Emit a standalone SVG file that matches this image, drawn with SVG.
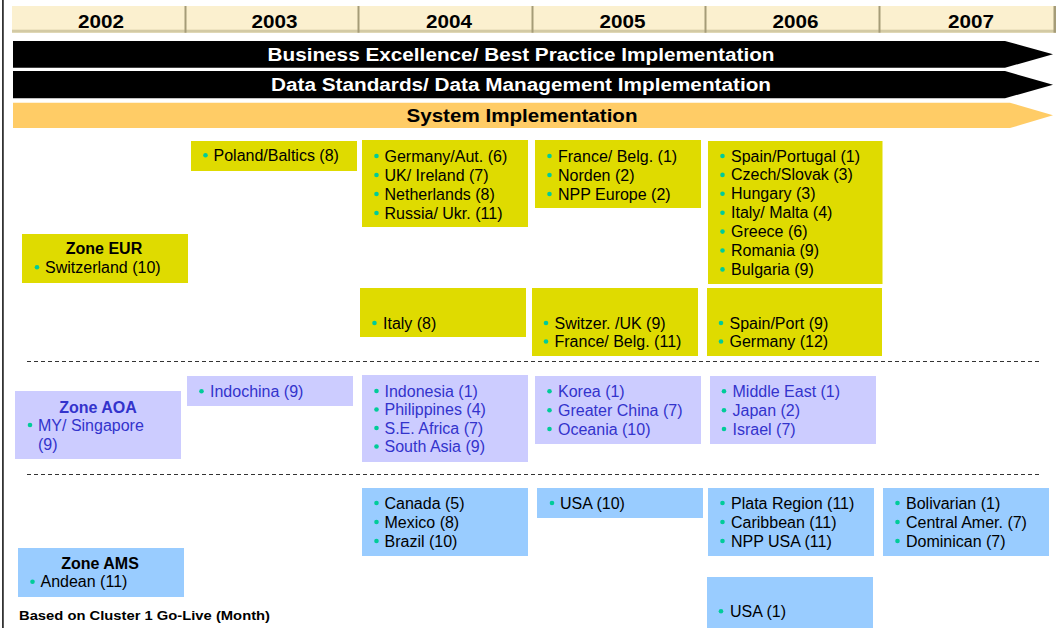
<svg xmlns="http://www.w3.org/2000/svg" width="1063" height="628" viewBox="0 0 1063 628">
  <style>
    .bg { fill: #ffffff; }
    .cell { fill: #FBF0CF; }
    .cell-bottom { fill: #D3CAA4; }
    .cell-edge { fill: #A59C78; }
    .year { font-family: "Liberation Sans", Arial, sans-serif; font-weight: bold; font-size: 18px; fill: #000; text-anchor: middle; }
    .bar-black { fill: #000000; }
    .bar-orange { fill: #FFCC66; }
    .bar-label { font-family: "Liberation Sans", Arial, sans-serif; font-weight: bold; font-size: 18px; text-anchor: middle; }
    .eur { fill: #DFDB00; }
    .aoa { fill: #CCCCFF; }
    .ams { fill: #99CCFF; }
    .item { font-family: "Liberation Sans", Arial, sans-serif; font-size: 16px; fill: #000; }
    .zone { font-family: "Liberation Sans", Arial, sans-serif; font-weight: bold; font-size: 16px; fill: #000; text-anchor: middle; }
    .item.blue, .zone.blue { fill: #3333CC; }
    .dot { fill: #00CC99; }
    .divider { stroke: #333333; stroke-width: 1; stroke-dasharray: 4 3; fill: none; }
    .note { font-family: "Liberation Sans", Arial, sans-serif; font-weight: bold; font-size: 13.5px; fill: #000; }
  </style>

  <rect class="bg" x="0" y="0" width="1063" height="628"/>
  <!-- left frame edge -->
  <rect x="2" y="0" width="1.8" height="628" fill="#333333"/>

  <!-- year header -->
  <g id="year-header">
    <rect class="cell" x="12" y="6" width="174" height="26.7"/>
    <rect class="cell" x="186" y="6" width="173" height="26.7"/>
    <rect class="cell" x="359" y="6" width="174" height="26.7"/>
    <rect class="cell" x="533" y="6" width="173" height="26.7"/>
    <rect class="cell" x="706" y="6" width="174" height="26.7"/>
    <rect class="cell" x="880" y="6" width="176" height="26.7"/>
    <rect class="cell-bottom" x="12" y="29.7" width="1044" height="3"/>
    <rect class="cell-edge" x="184.5" y="6" width="2" height="26.7"/>
    <rect class="cell-edge" x="357.5" y="6" width="2" height="26.7"/>
    <rect class="cell-edge" x="531.5" y="6" width="2" height="26.7"/>
    <rect class="cell-edge" x="704.5" y="6" width="2" height="26.7"/>
    <rect class="cell-edge" x="878.5" y="6" width="2" height="26.7"/>
    <rect class="cell-edge" x="1053.5" y="6" width="2.5" height="26.7"/>
    <text class="year" x="101" y="27.7" textLength="46" lengthAdjust="spacingAndGlyphs">2002</text>
    <text class="year" x="274.5" y="27.7" textLength="46" lengthAdjust="spacingAndGlyphs">2003</text>
    <text class="year" x="449" y="27.7" textLength="46" lengthAdjust="spacingAndGlyphs">2004</text>
    <text class="year" x="622.5" y="27.7" textLength="46" lengthAdjust="spacingAndGlyphs">2005</text>
    <text class="year" x="795.5" y="27.7" textLength="46" lengthAdjust="spacingAndGlyphs">2006</text>
    <text class="year" x="971" y="27.7" textLength="46" lengthAdjust="spacingAndGlyphs">2007</text>
  </g>

  <!-- programme arrows -->
  <g id="bar-business">
    <polygon class="bar-black" points="13,41 1005,41 1053,54.3 1005,67.7 13,67.7"/>
    <text class="bar-label" x="521" y="60.8" fill="#ffffff" textLength="507" lengthAdjust="spacingAndGlyphs">Business Excellence/ Best Practice Implementation</text>
  </g>
  <g id="bar-data">
    <polygon class="bar-black" points="13,71 1005,71 1053,84.7 1005,98.3 13,98.3"/>
    <text class="bar-label" x="521" y="91.1" fill="#ffffff" textLength="500" lengthAdjust="spacingAndGlyphs">Data Standards/ Data Management Implementation</text>
  </g>
  <g id="bar-system">
    <polygon class="bar-orange" points="13,102.7 1010,102.7 1053,115.3 1010,128 13,128"/>
    <text class="bar-label" x="522" y="121.8" fill="#000000" textLength="231" lengthAdjust="spacingAndGlyphs">System Implementation</text>
  </g>

  <!-- zone separators -->
  <g id="connectors">
    <line class="divider" x1="27" y1="361.5" x2="1039" y2="361.5"/>
    <line class="divider" x1="27" y1="474.5" x2="1039" y2="474.5"/>
  </g>

  <!-- Zone EUR -->
  <g id="eur-zone">
    <rect class="eur" x="22" y="234" width="166" height="49"/>
    <text class="zone" x="104" y="253.5">Zone EUR</text>
    <circle class="dot" cx="37" cy="267.2" r="2.3"/>
    <text class="item" x="45" y="272.7">Switzerland (10)</text>
  </g>
  <g id="eur-2003">
    <rect class="eur" x="191" y="141" width="166" height="30"/>
    <circle class="dot" cx="205.5" cy="155.2" r="2.3"/>
    <text class="item" x="213.5" y="160.7">Poland/Baltics (8)</text>
  </g>
  <g id="eur-2004-a">
    <rect class="eur" x="362" y="140" width="166" height="87"/>
    <circle class="dot" cx="376.5" cy="156" r="2.3"/>
    <circle class="dot" cx="376.5" cy="175" r="2.3"/>
    <circle class="dot" cx="376.5" cy="194" r="2.3"/>
    <circle class="dot" cx="376.5" cy="213" r="2.3"/>
    <text class="item" x="384.5" y="161.5">Germany/Aut. (6)</text>
    <text class="item" x="384.5" y="180.5">UK/ Ireland (7)</text>
    <text class="item" x="384.5" y="199.5">Netherlands (8)</text>
    <text class="item" x="384.5" y="218.5">Russia/ Ukr. (11)</text>
  </g>
  <g id="eur-2004-b">
    <rect class="eur" x="360" y="288" width="166" height="49"/>
    <circle class="dot" cx="374.5" cy="323" r="2.3"/>
    <text class="item" x="383" y="328.5">Italy (8)</text>
  </g>
  <g id="eur-2005-a">
    <rect class="eur" x="535" y="140" width="166" height="68"/>
    <circle class="dot" cx="549.5" cy="156" r="2.3"/>
    <circle class="dot" cx="549.5" cy="175" r="2.3"/>
    <circle class="dot" cx="549.5" cy="194" r="2.3"/>
    <text class="item" x="558" y="161.5">France/ Belg. (1)</text>
    <text class="item" x="558" y="180.5">Norden (2)</text>
    <text class="item" x="558" y="199.5">NPP Europe (2)</text>
  </g>
  <g id="eur-2005-b">
    <rect class="eur" x="532" y="288" width="166" height="68"/>
    <circle class="dot" cx="546" cy="323" r="2.3"/>
    <circle class="dot" cx="546" cy="341.5" r="2.3"/>
    <text class="item" x="554.5" y="328.5">Switzer. /UK (9)</text>
    <text class="item" x="554.5" y="347">France/ Belg. (11)</text>
  </g>
  <g id="eur-2006-a">
    <rect class="eur" x="708" y="141" width="174.5" height="143"/>
    <circle class="dot" cx="722.5" cy="156" r="2.3"/>
    <circle class="dot" cx="722.5" cy="174.9" r="2.3"/>
    <circle class="dot" cx="722.5" cy="193.8" r="2.3"/>
    <circle class="dot" cx="722.5" cy="212.7" r="2.3"/>
    <circle class="dot" cx="722.5" cy="231.6" r="2.3"/>
    <circle class="dot" cx="722.5" cy="250.5" r="2.3"/>
    <circle class="dot" cx="722.5" cy="269.4" r="2.3"/>
    <text class="item" x="731" y="161.5">Spain/Portugal (1)</text>
    <text class="item" x="731" y="180.4">Czech/Slovak (3)</text>
    <text class="item" x="731" y="199.3">Hungary (3)</text>
    <text class="item" x="731" y="218.2">Italy/ Malta (4)</text>
    <text class="item" x="731" y="237.1">Greece (6)</text>
    <text class="item" x="731" y="256">Romania (9)</text>
    <text class="item" x="731" y="274.9">Bulgaria (9)</text>
  </g>
  <g id="eur-2006-b">
    <rect class="eur" x="707" y="288" width="175" height="68"/>
    <circle class="dot" cx="721" cy="323" r="2.3"/>
    <circle class="dot" cx="721" cy="341.5" r="2.3"/>
    <text class="item" x="729.5" y="328.5">Spain/Port (9)</text>
    <text class="item" x="729.5" y="347">Germany (12)</text>
  </g>

  <!-- Zone AOA -->
  <g id="aoa-zone">
    <rect class="aoa" x="15" y="391" width="166" height="68"/>
    <text class="zone blue" x="98" y="412.5">Zone AOA</text>
    <circle class="dot" cx="30" cy="425" r="2.3"/>
    <text class="item blue" x="38" y="430.5">MY/ Singapore</text>
    <text class="item blue" x="38" y="449.5">(9)</text>
  </g>
  <g id="aoa-2003">
    <rect class="aoa" x="187" y="376" width="166" height="30"/>
    <circle class="dot" cx="201.5" cy="391.2" r="2.3"/>
    <text class="item blue" x="210" y="396.7">Indochina (9)</text>
  </g>
  <g id="aoa-2004">
    <rect class="aoa" x="362" y="375" width="166" height="87"/>
    <circle class="dot" cx="376.5" cy="391" r="2.3"/>
    <circle class="dot" cx="376.5" cy="409.5" r="2.3"/>
    <circle class="dot" cx="376.5" cy="428" r="2.3"/>
    <circle class="dot" cx="376.5" cy="446.5" r="2.3"/>
    <text class="item blue" x="384.5" y="396.5">Indonesia (1)</text>
    <text class="item blue" x="384.5" y="415">Philippines (4)</text>
    <text class="item blue" x="384.5" y="433.5">S.E. Africa (7)</text>
    <text class="item blue" x="384.5" y="452">South Asia (9)</text>
  </g>
  <g id="aoa-2005">
    <rect class="aoa" x="535" y="376" width="166" height="68"/>
    <circle class="dot" cx="549.5" cy="391.2" r="2.3"/>
    <circle class="dot" cx="549.5" cy="410.2" r="2.3"/>
    <circle class="dot" cx="549.5" cy="429" r="2.3"/>
    <text class="item blue" x="558" y="396.7">Korea (1)</text>
    <text class="item blue" x="558" y="415.7">Greater China (7)</text>
    <text class="item blue" x="558" y="434.5">Oceania (10)</text>
  </g>
  <g id="aoa-2006">
    <rect class="aoa" x="710" y="376" width="166" height="68"/>
    <circle class="dot" cx="724" cy="391.2" r="2.3"/>
    <circle class="dot" cx="724" cy="410.2" r="2.3"/>
    <circle class="dot" cx="724" cy="429" r="2.3"/>
    <text class="item blue" x="732.5" y="396.7">Middle East (1)</text>
    <text class="item blue" x="732.5" y="415.7">Japan (2)</text>
    <text class="item blue" x="732.5" y="434.5">Israel (7)</text>
  </g>

  <!-- Zone AMS -->
  <g id="ams-zone">
    <rect class="ams" x="18" y="548" width="166" height="49"/>
    <text class="zone" x="100" y="569">Zone AMS</text>
    <circle class="dot" cx="32.5" cy="581.8" r="2.3"/>
    <text class="item" x="40.5" y="587.3">Andean (11)</text>
  </g>
  <g id="ams-2004">
    <rect class="ams" x="362" y="488" width="166" height="68"/>
    <circle class="dot" cx="376.5" cy="503" r="2.3"/>
    <circle class="dot" cx="376.5" cy="522" r="2.3"/>
    <circle class="dot" cx="376.5" cy="541" r="2.3"/>
    <text class="item" x="384.5" y="508.5">Canada (5)</text>
    <text class="item" x="384.5" y="527.5">Mexico (8)</text>
    <text class="item" x="384.5" y="546.5">Brazil (10)</text>
  </g>
  <g id="ams-2005">
    <rect class="ams" x="537" y="488" width="166" height="30"/>
    <circle class="dot" cx="552" cy="503" r="2.3"/>
    <text class="item" x="560" y="508.5">USA (10)</text>
  </g>
  <g id="ams-2006-a">
    <rect class="ams" x="708" y="488" width="166" height="68"/>
    <circle class="dot" cx="722.5" cy="503" r="2.3"/>
    <circle class="dot" cx="722.5" cy="522" r="2.3"/>
    <circle class="dot" cx="722.5" cy="541" r="2.3"/>
    <text class="item" x="731" y="508.5">Plata Region (11)</text>
    <text class="item" x="731" y="527.5">Caribbean (11)</text>
    <text class="item" x="731" y="546.5">NPP USA (11)</text>
  </g>
  <g id="ams-2006-b">
    <rect class="ams" x="707" y="577" width="166" height="51"/>
    <circle class="dot" cx="721" cy="611.2" r="2.3"/>
    <text class="item" x="730" y="616.7">USA (1)</text>
  </g>
  <g id="ams-2007">
    <rect class="ams" x="883" y="488" width="166" height="68"/>
    <circle class="dot" cx="897.5" cy="503" r="2.3"/>
    <circle class="dot" cx="897.5" cy="522" r="2.3"/>
    <circle class="dot" cx="897.5" cy="541" r="2.3"/>
    <text class="item" x="906" y="508.5">Bolivarian (1)</text>
    <text class="item" x="906" y="527.5">Central Amer. (7)</text>
    <text class="item" x="906" y="546.5">Dominican (7)</text>
  </g>

  <!-- footnote -->
  <text class="note" x="19" y="619.5" textLength="251" lengthAdjust="spacingAndGlyphs">Based on Cluster 1 Go-Live (Month)</text>
</svg>
